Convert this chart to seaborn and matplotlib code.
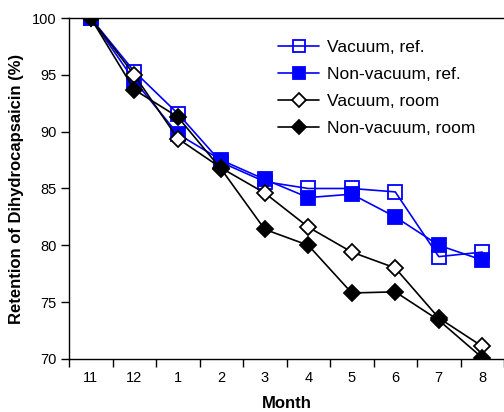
import numpy as np
import pandas as pd
import matplotlib
matplotlib.use("Agg")
import matplotlib.pyplot as plt
import seaborn as sb

months = ["11", "12", "1", "2", "3", "4", "5", "6", "7", "8"]
vac_ref = [100, 95.3, 91.6, 87.3, 85.6, 85.0, 85.0, 84.7, 79.0, 79.4]
nonvac_ref = [100, 94.5, 89.8, 87.5, 85.8, 84.2, 84.5, 82.5, 80.0, 78.7]
vac_room = [100, 95.0, 89.4, 86.8, 84.6, 81.6, 79.4, 78.0, 73.6, 71.1]
nonvac_room = [100, 93.7, 91.3, 86.7, 81.4, 80.0, 75.8, 75.9, 73.4, 70.1]

sb.set_style("white")
plt.rcParams["font.family"] = ["Liberation Sans", "DejaVu Sans"]
plt.rcParams.update({"text.color": "black", "axes.labelcolor": "black",
                     "xtick.color": "black", "ytick.color": "black"})

fig = plt.figure(figsize=(5.04, 4.12), dpi=100)
ax = fig.add_axes([0.137, 0.129, 0.863, 0.827])

x = np.arange(len(months))
series = [
    ("Vacuum, ref.", vac_ref, "blue", "s", "none", 10),
    ("Non-vacuum, ref.", nonvac_ref, "blue", "s", "blue", 10),
    ("Vacuum, room", vac_room, "black", "D", "white", 8),
    ("Non-vacuum, room", nonvac_room, "black", "D", "black", 8),
]
for name, vals, col, mk, fc, ms in series:
    sb.lineplot(x=x, y=vals, ax=ax, color=col, marker=mk, markersize=ms,
                markerfacecolor=fc, markeredgecolor=col, markeredgewidth=1.3,
                linewidth=1.2, label=name, sort=False)

ax.set_xlim(-0.5, 9.5)
ax.set_ylim(70, 100)
ax.set_yticks([70, 75, 80, 85, 90, 95, 100])
ax.set_xticks(x)
ax.set_xticklabels(months)
ax.set_xticks(np.arange(-0.5, 9.6, 1), minor=True)
ax.tick_params(axis="x", which="major", bottom=True, length=0, labelsize=10.5, pad=9)
ax.tick_params(axis="x", which="minor", bottom=True, length=6, width=1, color="black", direction="out")
ax.tick_params(axis="y", left=True, length=6, width=1, color="black", direction="out", labelsize=10.5, pad=3)

for s in ["left", "bottom", "top"]:
    ax.spines[s].set_color("black")
    ax.spines[s].set_linewidth(1.0)
ax.spines["right"].set_visible(False)

ax.set_xlabel("Month", fontweight="bold", fontsize=12, labelpad=8)
ax.set_ylabel("Retention of Dihydrocapsaicin (%)", fontweight="bold", fontsize=12, labelpad=6)

ax.legend(loc="upper left", bbox_to_anchor=(0.48, 0.937), frameon=False,
          fontsize=12.5, handlelength=2.4, labelspacing=0.68, handletextpad=0.45,
          borderpad=0, borderaxespad=0, markerscale=0.85)

fig.savefig("out.png", dpi=100)
